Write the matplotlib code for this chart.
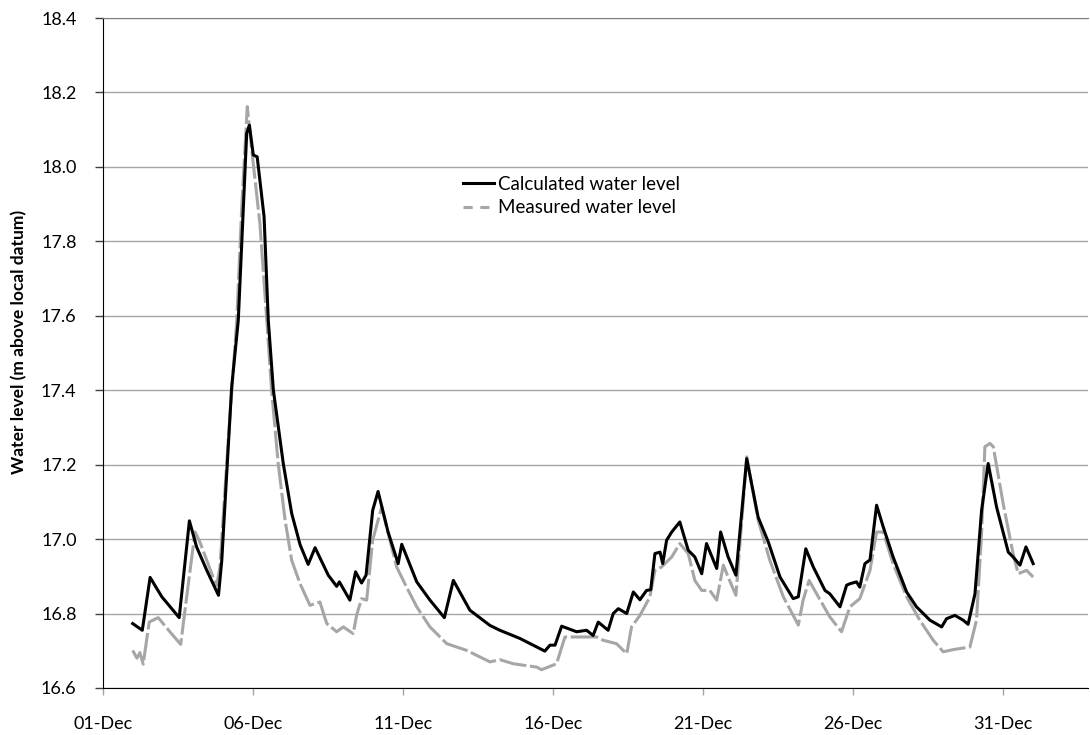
import matplotlib
matplotlib.use("Agg")
import matplotlib.pyplot as plt
import matplotlib.dates as mdates
from matplotlib.lines import Line2D
import pandas as pd

START = pd.Timestamp("2000-12-01")

# days after 01-Dec 00:00, water level (m above local datum)
calc_days = [0.99, 1.31, 1.57, 1.96, 2.54, 2.88, 3.12, 3.46, 3.85, 3.96, 4.01, 4.29, 4.51,
             4.79, 4.88, 5.01, 5.14, 5.37, 5.51, 5.68, 6.01, 6.29, 6.57, 6.84, 7.07, 7.51,
             7.79, 7.88, 8.23, 8.42, 8.62, 8.77, 8.99, 9.17, 9.5, 9.84, 9.96, 10.46, 10.9,
             11.38, 11.68, 12.23, 12.9, 13.23, 13.9, 14.73, 14.9, 15.07, 15.29, 15.79, 16.12,
             16.34, 16.51, 16.84, 17.01, 17.18, 17.46, 17.68, 17.9, 18.12, 18.26, 18.4, 18.57,
             18.66, 18.79, 18.96, 19.23, 19.51, 19.73, 19.96, 20.12, 20.46, 20.59, 20.84, 21.1,
             21.46, 21.84, 22.18, 22.57, 23.01, 23.18, 23.43, 23.68, 24.07, 24.23, 24.57, 24.79,
             24.9, 25.12, 25.23, 25.4, 25.57, 25.79, 26.01, 26.34, 26.79, 27.12, 27.57, 27.96,
             28.12, 28.4, 28.68, 28.84, 29.07, 29.29, 29.51, 29.79, 30.18, 30.34, 30.57, 30.77,
             31.01]
calc_level = [16.773, 16.755, 16.897, 16.845, 16.789, 17.049, 16.979, 16.916, 16.849, 16.943,
              17.015, 17.409, 17.588, 18.09, 18.112, 18.032, 18.027, 17.866, 17.588, 17.40,
              17.203, 17.069, 16.985, 16.932, 16.977, 16.903, 16.873, 16.885, 16.836, 16.912,
              16.882, 16.903, 17.077, 17.128, 17.02, 16.934, 16.986, 16.885, 16.836, 16.789,
              16.889, 16.809, 16.768, 16.755, 16.733, 16.699, 16.715, 16.715, 16.766, 16.751,
              16.755, 16.741, 16.777, 16.755, 16.80, 16.813, 16.80, 16.858, 16.837, 16.862,
              16.864, 16.961, 16.965, 16.934, 16.997, 17.019, 17.046, 16.970, 16.952, 16.907,
              16.988, 16.921, 17.019, 16.952, 16.903, 17.216, 17.059, 16.992, 16.898, 16.840,
              16.845, 16.974, 16.925, 16.862, 16.853, 16.818, 16.876, 16.880, 16.885, 16.871,
              16.934, 16.944, 17.091, 17.033, 16.952, 16.858, 16.818, 16.782, 16.764, 16.786,
              16.795, 16.782, 16.771, 16.853, 17.077, 17.203, 17.086, 16.965, 16.952, 16.930,
              16.979, 16.934]

meas_days = [0.99, 1.13, 1.23, 1.34, 1.54, 1.84, 2.23, 2.59, 2.79, 2.96, 3.07, 3.23, 3.73,
             3.79, 3.9, 4.17, 4.46, 4.63, 4.81, 4.96, 5.23, 5.46, 5.62, 5.84, 6.07, 6.29,
             6.57, 6.9, 7.23, 7.46, 7.79, 8.01, 8.34, 8.46, 8.62, 8.79, 8.99, 9.29, 9.51,
             9.79, 10.12, 10.46, 10.9, 11.46, 12.12, 12.9, 13.23, 13.68, 14.46, 14.62, 15.12,
             15.4, 15.9, 16.46, 16.68, 17.12, 17.46, 17.62, 17.9, 18.23, 18.4, 18.62, 18.96,
             19.23, 19.51, 19.73, 19.96, 20.23, 20.46, 20.68, 20.84, 21.1, 21.46, 21.84, 22.23,
             22.68, 23.18, 23.34, 23.54, 23.79, 24.23, 24.62, 24.9, 25.23, 25.57, 25.79, 26.01,
             26.34, 26.79, 27.23, 27.68, 28.01, 28.34, 28.9, 29.12, 29.29, 29.4, 29.57, 29.68,
             30.01, 30.34, 30.51, 30.79, 31.01]
meas_level = [16.701, 16.68, 16.695, 16.664, 16.777, 16.789, 16.751, 16.717, 16.845, 16.952,
              17.019, 16.992, 16.885, 16.876, 16.925, 17.26, 17.588, 17.9, 18.162, 18.045,
              17.848, 17.588, 17.40, 17.203, 17.051, 16.943, 16.880, 16.822, 16.831, 16.773,
              16.751, 16.764, 16.746, 16.797, 16.840, 16.836, 16.997, 17.086, 17.015, 16.925,
              16.871, 16.818, 16.764, 16.719, 16.701, 16.670, 16.676, 16.665, 16.656, 16.649,
              16.665, 16.737, 16.737, 16.737, 16.728, 16.719, 16.692, 16.764, 16.795, 16.844,
              16.916, 16.925, 16.952, 16.988, 16.961, 16.889, 16.862, 16.862, 16.836, 16.930,
              16.898, 16.849, 17.221, 17.051, 16.943, 16.845, 16.769, 16.836, 16.889, 16.853,
              16.791, 16.751, 16.818, 16.840, 16.916, 17.019, 17.019, 16.934, 16.845, 16.782,
              16.728, 16.697, 16.703, 16.710, 16.782, 17.015, 17.248, 17.257, 17.248, 17.095,
              16.961, 16.907, 16.916, 16.898]

y_ticks = [16.6, 16.8, 17.0, 17.2, 17.4, 17.6, 17.8, 18.0, 18.2, 18.4]
tick_days = [0, 5, 10, 15, 20, 25, 30]

BLACK = "#000000"
GREY = "#a6a6a6"
GRID = "#a6a6a6"
TICK_SIZE = 13

plt.rcParams["font.family"] = ["Lato", "DejaVu Sans"]

calc_t = START + pd.to_timedelta(calc_days, unit="D")
meas_t = START + pd.to_timedelta(meas_days, unit="D")

fig = plt.figure(figsize=(10.9, 7.35), dpi=100)
ax = fig.add_axes([0.0945, 0.064, 0.904, 0.9115])

ax.plot(meas_t, meas_level, color=GREY, linewidth=2.2, linestyle=(0, (9, 1.2)), zorder=3)
ax.plot(calc_t, calc_level, color=BLACK, linewidth=2.2, zorder=4)

ax.set_ylim(16.6, 18.4)
ax.set_yticks(y_ticks)
ax.yaxis.set_major_formatter(plt.FormatStrFormatter("%.1f"))
ax.set_xlim(START, START + pd.Timedelta(days=32.85))
ax.set_xticks([START + pd.Timedelta(days=d) for d in tick_days])
ax.xaxis.set_major_formatter(mdates.DateFormatter("%d-%b"))

ax.grid(axis="y", color=GRID, linewidth=1.0, zorder=0)
ax.set_axisbelow(True)
ax.spines["right"].set_visible(False)
ax.spines["top"].set_color("#7f7f7f")
ax.spines["left"].set_color(BLACK)
ax.spines["bottom"].set_color(BLACK)
ax.tick_params(axis="y", direction="out", length=6, width=1, color="#404040",
               labelcolor=BLACK, labelsize=TICK_SIZE, pad=13)
ax.tick_params(axis="x", direction="out", length=5, width=1, color="#a6a6a6",
               labelcolor=BLACK, labelsize=TICK_SIZE, pad=15)

ax.set_ylabel("Water level (m above local datum)", fontsize=12.5, fontweight="bold")
ax.yaxis.set_label_coords(-0.077, 0.516)

handles = [
    Line2D([0], [0], color=BLACK, linewidth=2.2),
    Line2D([0], [0], color=GREY, linewidth=2.2, linestyle=(0, (3, 2.5))),
]
ax.legend(handles, ["Calculated water level", "Measured water level"], loc="upper left",
          bbox_to_anchor=(0.348, 0.79), frameon=False, fontsize=13.5,
          handlelength=1.65, handletextpad=0.25, labelspacing=0.35)

fig.savefig("out.png", dpi=100)
